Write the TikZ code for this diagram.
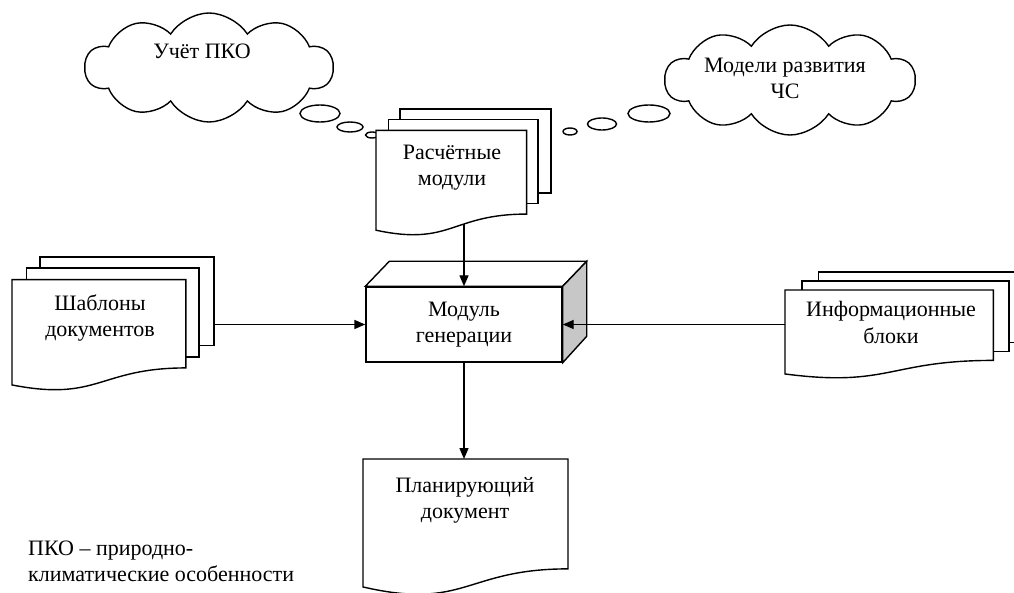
\documentclass[tikz,border=0pt]{standalone}
\usepackage{fontspec}
\setmainfont{Liberation Serif}
\usetikzlibrary{arrows.meta,shapes.symbols,shapes.geometric}
\pgfdeclarelayer{back}
\pgfdeclarelayer{conn}
\pgfsetlayers{back,conn,main}
\tikzset{
  ln/.style={line width=1.4pt, line join=miter},
  pg/.style={ln, draw=black, fill=white},
  lbl/.style={font=\fontsize{22}{26}\selectfont, align=center, inner sep=0pt},
  arr/.style={ln, -{Triangle[length=11pt,width=9pt]}},
  bub/.style={ln, draw, fill=white, ellipse, inner sep=0pt},
  cloudbox/.style={ln, draw, fill=white, cloud, cloud puffs=10, cloud puff arc=115, cloud ignores aspect, inner sep=0pt}
}
% multi-document: name, x0, y0, w, h
\newcommand\mdoc[5]{%
  \draw[pg] ({#2+0.138*#4},#3) rectangle ({#2+#4},{#3+0.666*#5});
  \draw[pg] ({#2+0.071*#4},{#3+0.084*#5}) rectangle ({#2+0.926*#4},{#3+0.752*#5});
  \draw[pg] ({#2},{#3+0.17*#5}) -- ({#2+0.861*#4},{#3+0.17*#5}) -- ({#2+0.861*#4},{#3+0.834*#5})
     .. controls ({#2+0.43*#4},{#3+0.834*#5}) and ({#2+0.43*#4},{#3+1.09*#5}) .. ({#2},{#3+0.962*#5}) -- cycle;
  \coordinate (#1) at ({#2+0.43*#4},{#3+0.17*#5});
}
% single document: name, x0, y0, w, h
\newcommand\sdoc[5]{%
  \draw[pg] (#2,#3) -- ({#2+#4},#3) -- ({#2+#4},{#3+0.802*#5})
     .. controls ({#2+0.5*#4},{#3+0.802*#5}) and ({#2+0.5*#4},{#3+1.107*#5}) .. (#2,{#3+0.934*#5}) -- cycle;
  \coordinate (#1) at ({#2+0.5*#4},#3);
}
\begin{document}
\begin{tikzpicture}[x=1pt,y=-1pt]
\useasboundingbox (0,0) rectangle (1014,593);

% generation module (cube)
\begin{pgfonlayer}{back}
\node[ln, draw, fill=white, minimum width=196pt, minimum height=75pt, inner sep=0pt, lbl] (modul) at (464,324.5) {\strut Модуль\\\strut генерации};
\draw[ln, fill=white] (modul.north west) -- ++(24,-25) -- ([shift={(24,25pt)}]modul.north east) -- (modul.north east) -- cycle;
\draw[ln, fill=black!22] (modul.north east) -- ++(24,-25) -- ++(0,75) -- (modul.south east) -- cycle;
\end{pgfonlayer}

% clouds and bubbles
\node[cloudbox, minimum width=248pt, minimum height=109pt] (c1) at (209,67.5) {};
\node[lbl] (t1) at (202,53.8) {\strut Учёт ПКО};
\node[bub, minimum width=40pt, minimum height=17pt] (b1) at (320,113.5) {};
\node[bub, minimum width=26pt, minimum height=10pt] (b2) at (350,127) {};
\node[bub, minimum width=13pt, minimum height=6pt] (b3) at (372,135) {};

\node[cloudbox, minimum width=250pt, minimum height=110pt] (c2) at (790,80) {};
\node[lbl] (t2) at (785,80.3) {\strut Модели развития\\\strut ЧС};
\node[bub, minimum width=42pt, minimum height=17pt] (b4) at (649,113.5) {};
\node[bub, minimum width=29pt, minimum height=12pt] (b5) at (602,124) {};
\node[bub, minimum width=14pt, minimum height=7pt] (b6) at (570,131.5) {};

% documents
\mdoc{raschtop}{376}{109}{175}{126}
\node[lbl] (rasch) at (452,167) {\strut Расчётные\\\strut модули};
\mdoc{shabtop}{12}{257}{202}{133}
\node[lbl] (shab) at (100,318.3) {\strut Шаблоны\\\strut документов};
\mdoc{infotop}{785}{272}{242}{106}
\node[lbl] (info) at (891,324.8) {\strut Информационные\\\strut блоки};
\sdoc{plantop}{363}{459}{205}{137}
\node[lbl] (plan) at (465,499.8) {\strut Планирующий\\\strut документ};

% footnote
\node[lbl, align=left, anchor=west] (note) at (28,563.3) {\strut ПКО – природно-\\\strut климатические особенности};

% connectors
\begin{pgfonlayer}{conn}
\draw[arr] (rasch -| modul.north) -- (modul.north);
\draw[arr] (shab |- modul.west) -- (modul.west);
\draw[arr] (info |- modul.east) -- (modul.east);
\draw[arr] (modul.south) -- (modul.south |- plantop);
\end{pgfonlayer}
\end{tikzpicture}
\end{document}
